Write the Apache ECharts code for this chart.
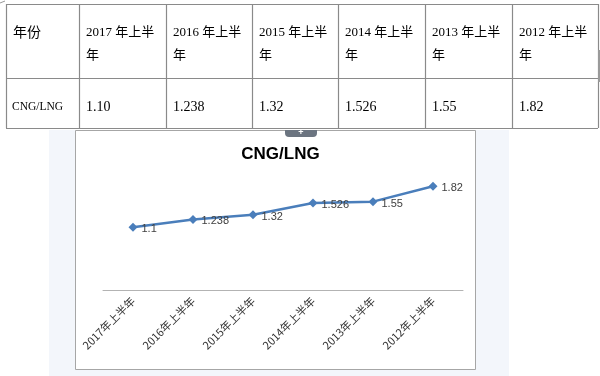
<!DOCTYPE html>
<html>
<head>
<meta charset="utf-8">
<script src="https://cdn.jsdelivr.net/npm/echarts@6/dist/echarts.min.js"></script>
<style>
html,body{margin:0;padding:0;background:#fff;}
#c{width:600px;height:376px;}
</style>
</head>
<body>
<div id="c"></div>
<script>
// ---- data ----
var categories = ['2017年上半年','2016年上半年','2015年上半年','2014年上半年','2013年上半年','2012年上半年'];
var tableHeadYears = ['2017','2016','2015','2014','2013','2012'];
var values = [1.1, 1.238, 1.32, 1.526, 1.55, 1.82];
var seriesName = 'CNG/LNG';
var tableRowLabel = '年份';

// ---- table geometry ----
var colX = [6, 79, 166, 252, 338, 425, 512, 598];
var rowY = [4, 78, 128];
var lineColor = '#8a8a8a';
var tableFont = '"Liberation Serif", "Noto Sans CJK SC", serif';

var g = [];
// panel background
g.push({type:'rect', z:-10, shape:{x:49, y:130, width:460, height:246}, style:{fill:'#f3f6fb'}, silent:true});
g.push({type:'rect', z:-9, shape:{x:75.5, y:130.5, width:400, height:239}, style:{fill:'#fff', stroke:'#a6a6a6', lineWidth:1}, silent:true});
// table lines
rowY.forEach(function(y){
  g.push({type:'line', z:5, shape:{x1:colX[0], y1:y+0.5, x2:colX[colX.length-1], y2:y+0.5}, style:{stroke:lineColor, lineWidth:1.2}, silent:true});
});
colX.forEach(function(x){
  g.push({type:'line', z:5, shape:{x1:x+0.5, y1:rowY[0], x2:x+0.5, y2:rowY[2]}, style:{stroke:lineColor, lineWidth:1.2}, silent:true});
});
// table text
g.push({type:'text', z:6, style:{x:colX[0]+7, y:33, text:tableRowLabel, fill:'#000', font:'14px '+tableFont, verticalAlign:'middle'}});
g.push({type:'text', z:6, style:{x:colX[0]+6, y:107, text:seriesName, fill:'#000', font:'11.5px '+tableFont, verticalAlign:'middle'}});
tableHeadYears.forEach(function(yr, i){
  var x = colX[i+1]+7;
  g.push({type:'text', z:6, style:{x:x, y:33, text:yr+' 年上半', fill:'#000', font:'13px '+tableFont, verticalAlign:'middle'}});
  g.push({type:'text', z:6, style:{x:x, y:56, text:'年', fill:'#000', font:'13px '+tableFont, verticalAlign:'middle'}});
  var v = values[i];
  var s = (String(v).split('.')[1] || '').length < 2 ? v.toFixed(2) : String(v);
  g.push({type:'text', z:6, style:{x:x, y:107, text:s, fill:'#000', font:'14px '+tableFont, verticalAlign:'middle'}});
});
// handle tab
g.push({type:'rect', z:7, shape:{x:285, y:130, width:32, height:7, r:[0,0,4,4]}, style:{fill:'#6b7480'}, silent:true});
g.push({type:'text', z:8, style:{x:301, y:133, text:'+', fill:'#fff', font:'bold 9px "Liberation Sans"', align:'center', verticalAlign:'middle'}});
// right edge marker
g.push({type:'rect', z:7, shape:{x:598, y:50, width:2, height:32}, style:{fill:'#9a9a9a'}, silent:true});
// top-left corner mark
g.push({type:'line', z:7, shape:{x1:0, y1:3, x2:5, y2:1}, style:{stroke:'#999', lineWidth:1}, silent:true});

var chart = echarts.init(document.getElementById('c'), null, {renderer:'canvas'});
chart.setOption({
  animation:false,
  title:{
    text: seriesName, left: 275.5, top: 141, textAlign:'center',
    textStyle:{fontSize:17, fontWeight:'bold', color:'#000', fontFamily:'"Liberation Sans", Arial, sans-serif'}
  },
  graphic: g,
  grid:{left:103, top:176, width:360, height:114},
  xAxis:{
    type:'category', data: categories, boundaryGap:true,
    axisLine:{lineStyle:{color:'#b3b3b3', width:1}},
    axisTick:{show:false},
    axisLabel:{rotate:45, margin:9, fontSize:11, color:'#333', fontFamily:'"Noto Sans CJK SC", sans-serif', interval:0}
  },
  yAxis:{type:'value', min:0, max:2, show:false, splitLine:{show:false}},
  series:[{
    name: seriesName, type:'line', data: values,
    symbol:'diamond', symbolSize:9,
    lineStyle:{color:'#4a7ebb', width:2.5},
    itemStyle:{color:'#4a7ebb'},
    label:{show:true, position:'right', distance:4, offset:[0,2], fontSize:11, color:'#404040', fontFamily:'"Liberation Sans", Arial, sans-serif'}
  }]
});
</script>
</body>
</html>
